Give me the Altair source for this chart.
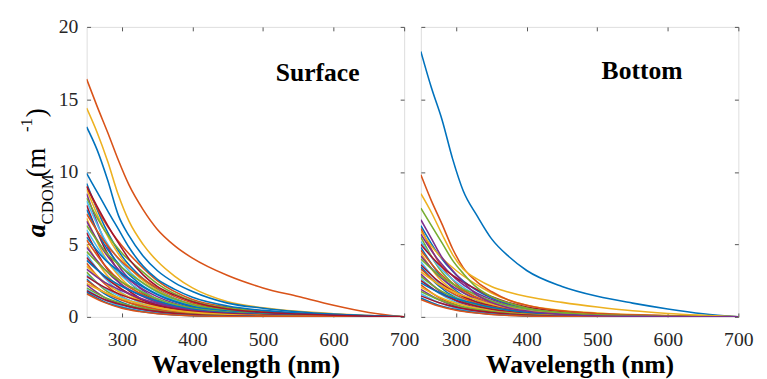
import altair as alt
import pandas as pd

FONT = "Liberation Serif"

# MATLAB default colour order
PALETTE = ["#0072BD", "#D95319", "#EDB120", "#7E2F8E", "#77AC30", "#4DBEEE", "#A2142F"]

X_TICKS = [300, 400, 500, 600, 700]
Y_TICKS = [0, 5, 10, 15, 20]

# wavelength grids (nm)
W_OUT = [250, 265, 280, 295, 310, 330, 350, 375, 400, 450, 500, 550, 600, 650, 700]
W_BUN = [250, 275, 300, 325, 350, 400, 450, 500, 600, 700]

# ---------------- Surface ----------------
SURF_OUT = [
    [16.4, 14.5, 12.7, 10.8, 9.1, 7.4, 6.05, 4.9, 4.05, 2.85, 2.0, 1.4, 0.8, 0.3, 0.0],
    [14.4, 12.7, 10.7, 8.4, 6.6, 5.0, 3.85, 2.8, 2.0, 1.05, 0.63, 0.38, 0.22, 0.1, 0.0],
    [13.1, 11.5, 9.4, 7.0, 5.6, 4.2, 3.2, 2.35, 1.75, 0.95, 0.6, 0.36, 0.2, 0.09, 0.0],
    [9.9, 8.6, 7.3, 6.05, 4.8, 3.5, 2.6, 1.9, 1.35, 0.75, 0.45, 0.27, 0.15, 0.07, 0.0],
    [9.0, 7.6, 6.3, 5.1, 4.0, 2.9, 2.1, 1.5, 1.05, 0.55, 0.32, 0.2, 0.11, 0.05, 0.0],
]
SURF_OUT_COLOR = [1, 2, 0, 0, 6]

SURF_BUN = [
    [9.2, 6.3, 4.2, 2.85, 1.9, 0.83, 0.37, 0.18, 0.05, 0],
    [9.0, 6.6, 4.9, 3.6, 2.5, 1.2, 0.68, 0.4, 0.13, 0],
    [8.8, 6.0, 4.0, 2.7, 1.85, 0.8, 0.35, 0.18, 0.04, 0],
    [8.5, 5.3, 3.2, 2.0, 1.2, 0.43, 0.15, 0.06, 0.01, 0],
    [8.2, 6.0, 4.4, 3.3, 2.3, 1.1, 0.62, 0.37, 0.12, 0],
    [8.0, 5.4, 3.7, 2.5, 1.7, 0.72, 0.32, 0.16, 0.04, 0],
    [7.7, 4.8, 2.9, 1.8, 1.1, 0.39, 0.14, 0.05, 0.01, 0],
    [7.4, 5.0, 3.4, 2.3, 1.55, 0.67, 0.3, 0.15, 0.04, 0],
    [7.1, 5.2, 3.8, 2.8, 2.0, 0.96, 0.53, 0.32, 0.11, 0],
    [6.8, 4.2, 2.6, 1.6, 0.95, 0.34, 0.12, 0.05, 0.01, 0],
    [6.6, 4.5, 3.0, 2.05, 1.4, 0.6, 0.26, 0.13, 0.03, 0],
    [6.3, 4.6, 3.4, 2.5, 1.75, 0.85, 0.47, 0.28, 0.09, 0],
    [6.0, 4.1, 2.8, 1.85, 1.25, 0.54, 0.24, 0.12, 0.03, 0],
    [5.8, 3.6, 2.2, 1.3, 0.8, 0.29, 0.1, 0.04, 0.01, 0],
    [5.5, 4.0, 3.0, 2.2, 1.55, 0.74, 0.41, 0.25, 0.08, 0],
    [5.3, 3.6, 2.4, 1.65, 1.1, 0.48, 0.21, 0.11, 0.03, 0],
    [5.0, 3.1, 1.9, 1.15, 0.7, 0.25, 0.09, 0.035, 0.005, 0],
    [4.8, 3.3, 2.2, 1.5, 1.0, 0.43, 0.19, 0.1, 0.02, 0],
    [4.5, 3.3, 2.4, 1.8, 1.25, 0.6, 0.34, 0.2, 0.07, 0],
    [4.3, 2.7, 1.65, 1.0, 0.6, 0.22, 0.08, 0.03, 0.004, 0],
    [4.1, 2.8, 1.9, 1.25, 0.85, 0.37, 0.16, 0.08, 0.02, 0],
    [3.9, 2.85, 2.1, 1.55, 1.1, 0.53, 0.29, 0.18, 0.06, 0],
    [3.7, 2.3, 1.4, 0.85, 0.52, 0.19, 0.07, 0.03, 0.004, 0],
    [3.5, 2.4, 1.6, 1.1, 0.74, 0.32, 0.14, 0.07, 0.02, 0],
    [3.3, 2.4, 1.8, 1.3, 0.92, 0.45, 0.25, 0.15, 0.05, 0],
    [3.1, 1.9, 1.2, 0.71, 0.43, 0.16, 0.06, 0.02, 0.003, 0],
    [2.9, 2.0, 1.35, 0.9, 0.61, 0.26, 0.12, 0.06, 0.015, 0],
    [2.8, 2.05, 1.5, 1.1, 0.78, 0.38, 0.21, 0.13, 0.04, 0],
    [2.6, 1.6, 1.0, 0.6, 0.36, 0.13, 0.05, 0.02, 0.003, 0],
    [2.5, 1.7, 1.15, 0.78, 0.53, 0.23, 0.1, 0.05, 0.013, 0],
    [2.3, 1.7, 1.25, 0.92, 0.64, 0.31, 0.17, 0.1, 0.035, 0],
    [2.2, 1.35, 0.84, 0.5, 0.31, 0.11, 0.04, 0.015, 0.002, 0],
    [2.0, 1.35, 0.92, 0.62, 0.42, 0.18, 0.08, 0.04, 0.01, 0],
    [1.9, 1.2, 0.72, 0.44, 0.27, 0.1, 0.035, 0.013, 0.002, 0],
    [1.8, 1.2, 0.83, 0.56, 0.38, 0.16, 0.07, 0.036, 0.01, 0],
    [1.7, 1.05, 0.65, 0.39, 0.24, 0.085, 0.03, 0.012, 0.002, 0],
    [1.6, 1.0, 0.6, 0.37, 0.22, 0.08, 0.03, 0.011, 0.002, 0],
]

# ---------------- Bottom ----------------
BOT_OUT = [
    [18.3, 15.8, 13.6, 10.9, 8.7, 6.95, 5.4, 4.15, 3.2, 2.1, 1.42, 0.95, 0.55, 0.22, 0.0],
    [9.8, 8.0, 6.4, 4.7, 3.4, 2.4, 1.75, 1.15, 0.8, 0.4, 0.22, 0.13, 0.07, 0.03, 0.0],
    [8.5, 7.2, 5.7, 4.3, 3.3, 2.6, 2.1, 1.7, 1.4, 1.0, 0.68, 0.42, 0.24, 0.11, 0.0],
    [7.5, 6.3, 5.1, 3.9, 3.0, 2.0, 1.4, 0.95, 0.62, 0.28, 0.14, 0.08, 0.04, 0.02, 0.0],
    [6.7, 5.4, 4.1, 3.2, 2.4, 1.5, 1.0, 0.62, 0.4, 0.17, 0.08, 0.04, 0.02, 0.01, 0.0],
]
BOT_OUT_COLOR = [0, 1, 2, 4, 3]

BOT_BUN = [
    [6.3, 4.3, 2.9, 1.95, 1.3, 0.57, 0.25, 0.13, 0.03, 0],
    [6.1, 3.8, 2.3, 1.4, 0.85, 0.3, 0.11, 0.04, 0.006, 0],
    [5.9, 4.3, 3.2, 2.35, 1.65, 0.8, 0.44, 0.27, 0.09, 0],
    [5.7, 3.9, 2.6, 1.75, 1.2, 0.51, 0.23, 0.11, 0.03, 0],
    [5.5, 3.4, 2.1, 1.25, 0.77, 0.28, 0.1, 0.04, 0.005, 0],
    [5.2, 3.5, 2.4, 1.6, 1.1, 0.47, 0.21, 0.1, 0.026, 0],
    [5.0, 3.65, 2.7, 2.0, 1.4, 0.68, 0.38, 0.22, 0.075, 0],
    [4.8, 3.0, 1.8, 1.1, 0.67, 0.24, 0.09, 0.034, 0.005, 0],
    [4.6, 3.1, 2.1, 1.45, 0.97, 0.41, 0.18, 0.09, 0.023, 0],
    [4.4, 2.7, 1.7, 1.0, 0.62, 0.22, 0.08, 0.03, 0.004, 0],
    [4.2, 2.85, 1.95, 1.3, 0.88, 0.38, 0.17, 0.085, 0.02, 0],
    [4.0, 2.9, 2.15, 1.6, 1.1, 0.54, 0.3, 0.18, 0.06, 0],
    [3.8, 2.35, 1.45, 0.87, 0.53, 0.19, 0.07, 0.027, 0.004, 0],
    [3.6, 2.45, 1.65, 1.1, 0.76, 0.32, 0.14, 0.07, 0.018, 0],
    [3.45, 2.15, 1.3, 0.8, 0.48, 0.17, 0.06, 0.024, 0.003, 0],
    [3.3, 2.25, 1.5, 1.0, 0.69, 0.3, 0.13, 0.066, 0.016, 0],
    [3.1, 2.25, 1.65, 1.25, 0.87, 0.42, 0.23, 0.14, 0.046, 0],
    [2.95, 1.85, 1.1, 0.68, 0.41, 0.15, 0.05, 0.02, 0.003, 0],
    [2.8, 1.9, 1.3, 0.87, 0.59, 0.25, 0.11, 0.056, 0.014, 0],
    [2.65, 1.65, 1.0, 0.61, 0.37, 0.13, 0.048, 0.019, 0.003, 0],
    [2.5, 1.7, 1.15, 0.78, 0.53, 0.23, 0.1, 0.05, 0.013, 0],
    [2.35, 1.7, 1.25, 0.94, 0.66, 0.32, 0.18, 0.1, 0.035, 0],
    [2.2, 1.35, 0.84, 0.5, 0.31, 0.11, 0.04, 0.015, 0.002, 0],
    [2.05, 1.4, 0.94, 0.64, 0.43, 0.18, 0.08, 0.04, 0.01, 0],
    [1.9, 1.2, 0.72, 0.44, 0.27, 0.1, 0.035, 0.013, 0.002, 0],
    [1.75, 1.2, 0.8, 0.54, 0.37, 0.16, 0.07, 0.035, 0.009, 0],
    [1.6, 1.0, 0.6, 0.37, 0.22, 0.08, 0.03, 0.011, 0.002, 0],
    [1.45, 1.0, 0.67, 0.45, 0.3, 0.13, 0.06, 0.03, 0.007, 0],
    [1.3, 0.8, 0.5, 0.3, 0.18, 0.065, 0.023, 0.009, 0.001, 0],
    [1.2, 0.75, 0.46, 0.28, 0.17, 0.06, 0.02, 0.008, 0.001, 0],
]


def build(panel, bundle, outs, out_colors):
    rows = []
    k = 0
    for i, vals in enumerate(bundle):
        for w, v in zip(W_BUN, vals):
            rows.append({"curve": f"{panel}{k:03d}", "wl": w, "a": v,
                         "color": PALETTE[i % len(PALETTE)]})
        k += 1
    for vals, ci in zip(outs, out_colors):
        for w, v in zip(W_OUT, vals):
            rows.append({"curve": f"{panel}{k:03d}", "wl": w, "a": v,
                         "color": PALETTE[ci]})
        k += 1
    return pd.DataFrame(rows)


df_s = build("s", SURF_BUN, SURF_OUT, SURF_OUT_COLOR)
df_b = build("b", BOT_BUN, BOT_OUT, BOT_OUT_COLOR)
ticks_df = pd.DataFrame({"xt": X_TICKS, "yt": Y_TICKS})

W, H = 323, 295
xscale = alt.Scale(domain=[250, 700], nice=False, zero=False)
yscale = alt.Scale(domain=[0, 20], nice=False, zero=False)

TICK = dict(tickSize=4, offset=-4, domain=False, grid=False, tickColor="#555555",
            tickWidth=1, labelFont=FONT, labelFontSize=20, labelColor="#262626")


def panel(df, name, show_y_labels, label_x, label_y):
    x_bottom = alt.Axis(values=X_TICKS, format="d", labelPadding=13, labelFlush=False,
                        labelOverlap=False, labelBound=False,
                        title="Wavelength (nm)", titleFont=FONT, titleFontSize=26,
                        titleFontWeight="bold", titleColor="#000000", titlePadding=3, **TICK)
    y_left = alt.Axis(values=Y_TICKS, format="d", labels=show_y_labels, labelPadding=9,
                      title="", **TICK)
    x_top = alt.Axis(orient="top", values=X_TICKS, labels=False, title="", **TICK)
    y_right = alt.Axis(orient="right", values=Y_TICKS, labels=False, title="", **TICK)

    lines = alt.Chart(df).mark_line(strokeWidth=1.6, interpolate="monotone", clip=True).encode(
        x=alt.X("wl:Q", scale=xscale, axis=x_bottom),
        y=alt.Y("a:Q", scale=yscale, axis=y_left),
        detail="curve:N",
        color=alt.Color("color:N", scale=None),
    )
    frame = alt.Chart(ticks_df).mark_point(opacity=0).encode(
        x=alt.X("xt:Q", scale=xscale, axis=x_top),
        y=alt.Y("yt:Q", scale=yscale, axis=y_right),
    )
    label = alt.Chart(pd.DataFrame({"t": [name]})).mark_text(
        font=FONT, fontSize=26, fontWeight="bold", align="center", baseline="middle",
        color="#000000",
    ).encode(text="t:N", x=alt.value(label_x), y=alt.value(label_y))
    layers = [lines, frame, label]
    if show_y_labels:
        pieces = [
            ("a", 27, "bold", "italic", -42, 214),
            ("CDOM", 17, "normal", "normal", -34, 201),
            (" (m", 27, "normal", "normal", -42, 153),
            ("-1", 17, "normal", "normal", -56, 107),
            (")", 27, "normal", "normal", -42, 92),
        ]
        for txt, fs, fw, fst, px, py in pieces:
            layers.append(
                alt.Chart(pd.DataFrame({"t": [txt]})).mark_text(
                    font=FONT, fontSize=fs, fontWeight=fw, fontStyle=fst, angle=270,
                    align="left", baseline="alphabetic", color="#000000",
                ).encode(text="t:N", x=alt.value(px), y=alt.value(py))
            )
    return alt.layer(*layers).resolve_axis(x="independent", y="independent").properties(
        width=W, height=H)


left = panel(df_s, "Surface", True, 235, 47)
right = panel(df_b, "Bottom", False, 225, 45)

chart = alt.hconcat(left, right, spacing=17, bounds="flush").properties(
    padding={"left": 9, "top": 5, "right": 5, "bottom": 0}
).configure_view(stroke="#555555", strokeWidth=1).configure(background="white")

chart.save("out.html", embed_options={"renderer": "svg", "actions": False})
